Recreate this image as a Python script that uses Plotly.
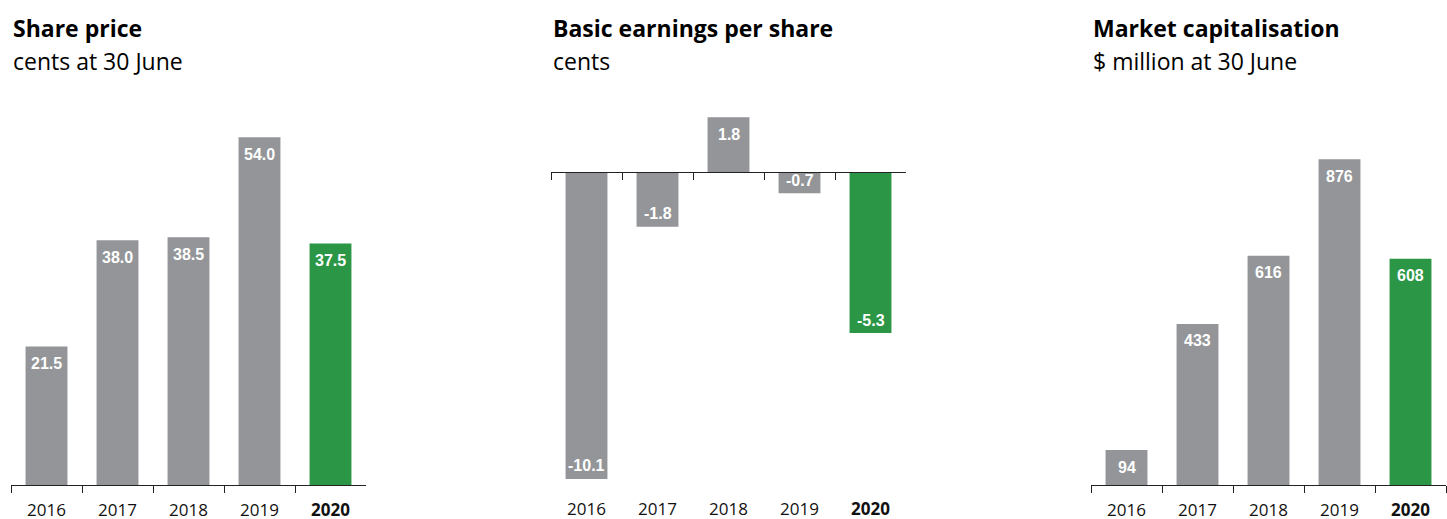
import plotly.graph_objects as go

# ---- data ----
years = ["2016", "2017", "2018", "2019", "2020"]
year_labels = ["2016", "2017", "2018", "2019", "<b>2020</b>"]
share_price = [21.5, 38.0, 38.5, 54.0, 37.5]
share_price_text = ["21.5", "38.0", "38.5", "54.0", "37.5"]
eps = [-10.1, -1.8, 1.8, -0.7, -5.3]
eps_text = ["-10.1", "-1.8", "1.8", "-0.7", "-5.3"]
market_cap = [94, 433, 616, 876, 608]
market_cap_text = ["94", "433", "616", "876", "608"]

titles = ["Share price", "Basic earnings per share", "Market capitalisation"]
subtitles = ["cents at 30 June", "cents", "$ million at 30 June"]

GREY = "#939598"
GREEN = "#2a9646"
colors = [GREY, GREY, GREY, GREY, GREEN]

W, H = 1447, 519
x_domains = [[11 / W, 366 / W], [551 / W, 906 / W], [1091 / W, 1446 / W]]
y_domain = [1 - 485 / H, 1 - 100 / H]
y_ranges = [[0, 59.8], [-10.30, 2.37], [0, 1035]]

TEXT_FONT = "Open Sans, Noto Sans, DejaVu Sans, sans-serif"
LABEL_FONT = "Liberation Sans Narrow, Liberation Sans, Arial, sans-serif"

fig = go.Figure()
series = [(share_price, share_price_text), (eps, eps_text), (market_cap, market_cap_text)]

annotations = []
for i, (vals, txts) in enumerate(series):
    xa = "x" if i == 0 else f"x{i+1}"
    ya = "y" if i == 0 else f"y{i+1}"
    fig.add_trace(go.Bar(
        x=years, y=vals, marker=dict(color=colors, line=dict(width=0)),
        xaxis=xa, yaxis=ya, showlegend=False, hoverinfo="skip",
    ))
    for k, (v, t) in enumerate(zip(vals, txts)):
        annotations.append(dict(
            x=k, y=v, xref=xa, yref=ya, text="<b>" + t + "</b>", showarrow=False,
            xanchor="center", yanchor="middle", yshift=-17 if v >= 0 else 13,
            font=dict(family=LABEL_FONT, size=16, color="#ffffff"),
        ))
    # titles
    annotations.append(dict(
        x=x_domains[i][0], y=1 - 28 / H, xref="paper", yref="paper",
        xanchor="left", yanchor="middle", showarrow=False,
        text=f"<b>{titles[i]}</b>", font=dict(family=TEXT_FONT, size=23, color="#000000"),
    ))
    annotations.append(dict(
        x=x_domains[i][0], y=1 - 61 / H, xref="paper", yref="paper",
        xanchor="left", yanchor="middle", showarrow=False,
        text=subtitles[i], font=dict(family=TEXT_FONT, size=23, color="#000000"),
    ))

# invisible trace for the zero-line axis of the EPS chart
fig.add_trace(go.Scatter(x=years, y=[0] * len(years), xaxis="x4", yaxis="y2",
                         mode="markers", marker=dict(opacity=0), showlegend=False,
                         hoverinfo="skip"))

axis_common = dict(
    type="category", categoryorder="array", categoryarray=years,
    range=[-0.5, 4.5], tickmode="array", tickvals=years, ticktext=year_labels,
    tickson="boundaries", ticks="outside", ticklen=7, tickwidth=1.2,
    tickfont=dict(family=TEXT_FONT, size=17, color="#111111"),
    showgrid=False, zeroline=False, fixedrange=True, automargin=False,
)

layout = dict(
    width=W, height=H, margin=dict(l=0, r=0, t=0, b=0),
    paper_bgcolor="white", plot_bgcolor="white", bargap=0.41,
    annotations=annotations,
)
for i in range(3):
    xk = "xaxis" if i == 0 else f"xaxis{i+1}"
    yk = "yaxis" if i == 0 else f"yaxis{i+1}"
    ya = "y" if i == 0 else f"y{i+1}"
    ax = dict(axis_common, domain=x_domains[i], anchor=ya)
    if i == 1:
        ax.update(showline=False, tickcolor="rgba(0,0,0,0)", ticklabelstandoff=12)
    else:
        ax.update(showline=True, linecolor="#222222", linewidth=1.2, tickcolor="#222222",
                  ticklabelstandoff=9)
    layout[xk] = ax
    layout[yk] = dict(domain=y_domain, range=y_ranges[i], showticklabels=False,
                      showgrid=False, zeroline=False, showline=False, ticks="",
                      anchor="x" if i == 0 else f"x{i+1}", fixedrange=True,
                      automargin=False)

# zero axis position for EPS chart, derived from its domain and range
r0, r1 = y_ranges[1]
zero_pos = y_domain[0] + (0 - r0) / (r1 - r0) * (y_domain[1] - y_domain[0])
layout["xaxis4"] = dict(
    axis_common, domain=x_domains[1], overlaying="x2", anchor="free", position=zero_pos,
    showline=True, linecolor="#222222", linewidth=1.2, tickcolor="#222222",
    showticklabels=False,
)

fig.update_layout(**layout)
fig.write_html("out.html", config={"displayModeBar": False},
               post_script="document.body.style.margin='0';document.body.style.overflow='hidden';")
